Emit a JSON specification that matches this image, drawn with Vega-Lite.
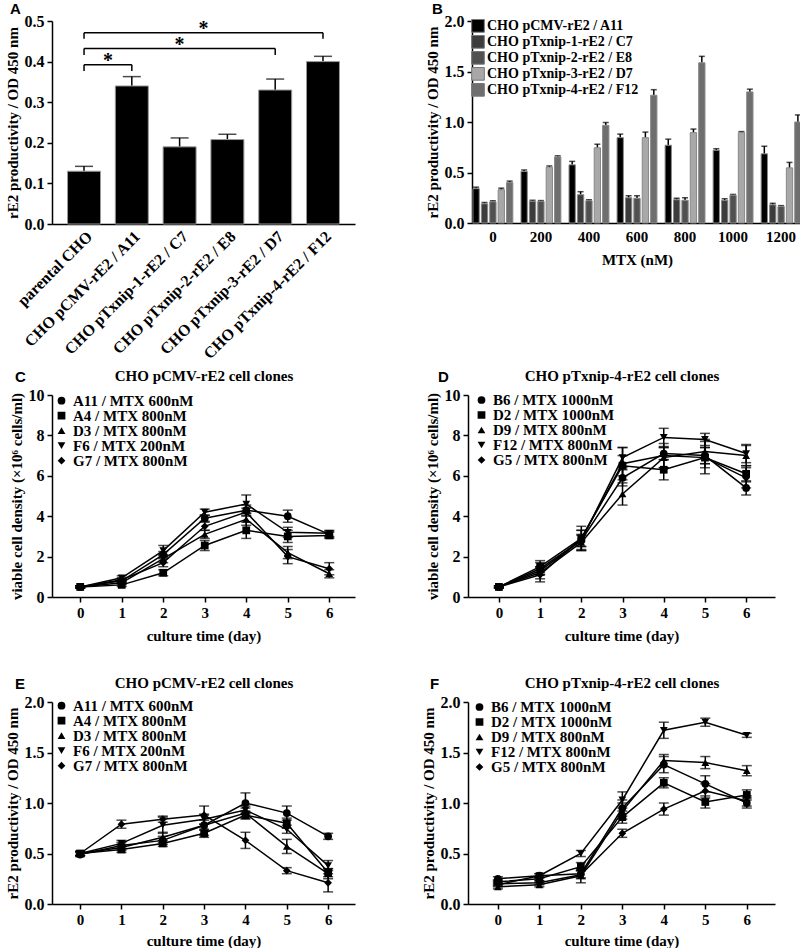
{
  "$schema": "https://vega.github.io/schema/vega-lite/v6.json",
  "background": "white",
  "padding": {"left": 5, "top": 2, "right": 0, "bottom": 0},
  "config": {
    "font": "Liberation Serif",
    "view": {"stroke": null},
    "axis": {"labelFont": "Liberation Serif", "labelFontWeight": "bold", "labelFontSize": 15, "labelColor": "black", "titleFont": "Liberation Serif", "titleFontWeight": "bold", "titleFontSize": 15, "titleColor": "black", "domainColor": "black", "domainWidth": 1.5, "tickColor": "black", "tickWidth": 1.5, "tickSize": 5, "grid": false, "labelPadding": 3},
    "axisY": {"labelFontSize": 16},
    "legend": {"labelFont": "Liberation Serif", "labelFontWeight": "bold", "labelFontSize": 15, "labelColor": "black", "labelLimit": 0, "padding": 0},
    "title": {"font": "Liberation Sans", "fontWeight": "bold", "fontSize": 15, "color": "black", "anchor": "start", "frame": "group"}
  },
  "datasets": {
    "A": [
      {"sample": "parental CHO", "value": 0.13, "upper": 0.142},
      {"sample": "CHO pCMV-rE2 / A11", "value": 0.34, "upper": 0.363},
      {"sample": "CHO pTxnip-1-rE2 / C7", "value": 0.19, "upper": 0.212},
      {"sample": "CHO pTxnip-2-rE2 / E8", "value": 0.208, "upper": 0.221},
      {"sample": "CHO pTxnip-3-rE2 / D7", "value": 0.33, "upper": 0.357},
      {"sample": "CHO pTxnip-4-rE2 / F12", "value": 0.4, "upper": 0.413}
    ],
    "brackets": [
      {"start": 0, "end": 1, "mid": 0.5, "level": 0.392, "low": 0.377, "sig": "*"},
      {"start": 0, "end": 4, "mid": 2, "level": 0.432, "low": 0.416, "sig": "*"},
      {"start": 0, "end": 5, "mid": 2.5, "level": 0.471, "low": 0.456, "sig": "*"}
    ],
    "B": [
      {"mtx": "0", "clone": "CHO pCMV-rE2 / A11", "value": 0.34, "upper": 0.355},
      {"mtx": "0", "clone": "CHO pTxnip-1-rE2 / C7", "value": 0.19, "upper": 0.203},
      {"mtx": "0", "clone": "CHO pTxnip-2-rE2  / E8", "value": 0.21, "upper": 0.22},
      {"mtx": "0", "clone": "CHO pTxnip-3-rE2 / D7", "value": 0.33, "upper": 0.345},
      {"mtx": "0", "clone": "CHO pTxnip-4-rE2 / F12", "value": 0.4, "upper": 0.415},
      {"mtx": "200", "clone": "CHO pCMV-rE2 / A11", "value": 0.51, "upper": 0.525},
      {"mtx": "200", "clone": "CHO pTxnip-1-rE2 / C7", "value": 0.215, "upper": 0.225},
      {"mtx": "200", "clone": "CHO pTxnip-2-rE2  / E8", "value": 0.215, "upper": 0.222},
      {"mtx": "200", "clone": "CHO pTxnip-3-rE2 / D7", "value": 0.553, "upper": 0.565},
      {"mtx": "200", "clone": "CHO pTxnip-4-rE2 / F12", "value": 0.655, "upper": 0.665},
      {"mtx": "400", "clone": "CHO pCMV-rE2 / A11", "value": 0.576, "upper": 0.61},
      {"mtx": "400", "clone": "CHO pTxnip-1-rE2 / C7", "value": 0.28, "upper": 0.31},
      {"mtx": "400", "clone": "CHO pTxnip-2-rE2  / E8", "value": 0.22, "upper": 0.23},
      {"mtx": "400", "clone": "CHO pTxnip-3-rE2 / D7", "value": 0.745, "upper": 0.78},
      {"mtx": "400", "clone": "CHO pTxnip-4-rE2 / F12", "value": 0.967, "upper": 0.995},
      {"mtx": "600", "clone": "CHO pCMV-rE2 / A11", "value": 0.845, "upper": 0.88},
      {"mtx": "600", "clone": "CHO pTxnip-1-rE2 / C7", "value": 0.25, "upper": 0.27},
      {"mtx": "600", "clone": "CHO pTxnip-2-rE2  / E8", "value": 0.245, "upper": 0.27},
      {"mtx": "600", "clone": "CHO pTxnip-3-rE2 / D7", "value": 0.845, "upper": 0.9},
      {"mtx": "600", "clone": "CHO pTxnip-4-rE2 / F12", "value": 1.265, "upper": 1.32},
      {"mtx": "800", "clone": "CHO pCMV-rE2 / A11", "value": 0.77, "upper": 0.83},
      {"mtx": "800", "clone": "CHO pTxnip-1-rE2 / C7", "value": 0.23, "upper": 0.245},
      {"mtx": "800", "clone": "CHO pTxnip-2-rE2  / E8", "value": 0.225, "upper": 0.25},
      {"mtx": "800", "clone": "CHO pTxnip-3-rE2 / D7", "value": 0.895, "upper": 0.93},
      {"mtx": "800", "clone": "CHO pTxnip-4-rE2 / F12", "value": 1.586, "upper": 1.65},
      {"mtx": "1000", "clone": "CHO pCMV-rE2 / A11", "value": 0.72, "upper": 0.735},
      {"mtx": "1000", "clone": "CHO pTxnip-1-rE2 / C7", "value": 0.225, "upper": 0.24},
      {"mtx": "1000", "clone": "CHO pTxnip-2-rE2  / E8", "value": 0.275, "upper": 0.283},
      {"mtx": "1000", "clone": "CHO pTxnip-3-rE2 / D7", "value": 0.895, "upper": 0.905},
      {"mtx": "1000", "clone": "CHO pTxnip-4-rE2 / F12", "value": 1.298, "upper": 1.325},
      {"mtx": "1200", "clone": "CHO pCMV-rE2 / A11", "value": 0.685, "upper": 0.76},
      {"mtx": "1200", "clone": "CHO pTxnip-1-rE2 / C7", "value": 0.18, "upper": 0.195},
      {"mtx": "1200", "clone": "CHO pTxnip-2-rE2  / E8", "value": 0.163, "upper": 0.172},
      {"mtx": "1200", "clone": "CHO pTxnip-3-rE2 / D7", "value": 0.546, "upper": 0.6},
      {"mtx": "1200", "clone": "CHO pTxnip-4-rE2 / F12", "value": 1.0, "upper": 1.07}
    ],
    "C": [
      {"clone": "A11 / MTX 600nM", "day": 0, "value": 0.5, "sd": 0.05},
      {"clone": "A11 / MTX 600nM", "day": 1, "value": 0.8, "sd": 0.1},
      {"clone": "A11 / MTX 600nM", "day": 2, "value": 2.1, "sd": 0.15},
      {"clone": "A11 / MTX 600nM", "day": 3, "value": 3.9, "sd": 0.15},
      {"clone": "A11 / MTX 600nM", "day": 4, "value": 4.3, "sd": 0.25},
      {"clone": "A11 / MTX 600nM", "day": 5, "value": 4.0, "sd": 0.3},
      {"clone": "A11 / MTX 600nM", "day": 6, "value": 3.1, "sd": 0.15},
      {"clone": "A4 / MTX 800nM", "day": 0, "value": 0.5, "sd": 0.05},
      {"clone": "A4 / MTX 800nM", "day": 1, "value": 0.6, "sd": 0.08},
      {"clone": "A4 / MTX 800nM", "day": 2, "value": 1.2, "sd": 0.15},
      {"clone": "A4 / MTX 800nM", "day": 3, "value": 2.55, "sd": 0.25},
      {"clone": "A4 / MTX 800nM", "day": 4, "value": 3.3, "sd": 0.4},
      {"clone": "A4 / MTX 800nM", "day": 5, "value": 3.0, "sd": 0.3},
      {"clone": "A4 / MTX 800nM", "day": 6, "value": 3.05, "sd": 0.15},
      {"clone": "D3 / MTX 800nM", "day": 0, "value": 0.5, "sd": 0.05},
      {"clone": "D3 / MTX 800nM", "day": 1, "value": 0.7, "sd": 0.08},
      {"clone": "D3 / MTX 800nM", "day": 2, "value": 1.9, "sd": 0.2},
      {"clone": "D3 / MTX 800nM", "day": 3, "value": 3.1, "sd": 0.2},
      {"clone": "D3 / MTX 800nM", "day": 4, "value": 3.85, "sd": 0.3},
      {"clone": "D3 / MTX 800nM", "day": 5, "value": 2.2, "sd": 0.3},
      {"clone": "D3 / MTX 800nM", "day": 6, "value": 1.15, "sd": 0.2},
      {"clone": "F6 / MTX 200nM", "day": 0, "value": 0.5, "sd": 0.05},
      {"clone": "F6 / MTX 200nM", "day": 1, "value": 0.95, "sd": 0.1},
      {"clone": "F6 / MTX 200nM", "day": 2, "value": 2.3, "sd": 0.25},
      {"clone": "F6 / MTX 200nM", "day": 3, "value": 4.2, "sd": 0.15},
      {"clone": "F6 / MTX 200nM", "day": 4, "value": 4.6, "sd": 0.45},
      {"clone": "F6 / MTX 200nM", "day": 5, "value": 3.2, "sd": 0.25},
      {"clone": "F6 / MTX 200nM", "day": 6, "value": 3.15, "sd": 0.15},
      {"clone": "G7 / MTX 800nM", "day": 0, "value": 0.5, "sd": 0.05},
      {"clone": "G7 / MTX 800nM", "day": 1, "value": 0.85, "sd": 0.1},
      {"clone": "G7 / MTX 800nM", "day": 2, "value": 1.7, "sd": 0.2},
      {"clone": "G7 / MTX 800nM", "day": 3, "value": 3.5, "sd": 0.2},
      {"clone": "G7 / MTX 800nM", "day": 4, "value": 4.2, "sd": 0.2},
      {"clone": "G7 / MTX 800nM", "day": 5, "value": 2.0, "sd": 0.35},
      {"clone": "G7 / MTX 800nM", "day": 6, "value": 1.4, "sd": 0.3}
    ],
    "D": [
      {"clone": "B6 / MTX 1000nM", "day": 0, "value": 0.5, "sd": 0.05},
      {"clone": "B6 / MTX 1000nM", "day": 1, "value": 1.3, "sd": 0.2},
      {"clone": "B6 / MTX 1000nM", "day": 2, "value": 2.8, "sd": 0.3},
      {"clone": "B6 / MTX 1000nM", "day": 3, "value": 5.9, "sd": 0.4},
      {"clone": "B6 / MTX 1000nM", "day": 4, "value": 7.1, "sd": 0.3},
      {"clone": "B6 / MTX 1000nM", "day": 5, "value": 7.0, "sd": 0.4},
      {"clone": "B6 / MTX 1000nM", "day": 6, "value": 5.4, "sd": 0.35},
      {"clone": "D2 / MTX 1000nM", "day": 0, "value": 0.5, "sd": 0.05},
      {"clone": "D2 / MTX 1000nM", "day": 1, "value": 1.5, "sd": 0.3},
      {"clone": "D2 / MTX 1000nM", "day": 2, "value": 2.9, "sd": 0.4},
      {"clone": "D2 / MTX 1000nM", "day": 3, "value": 6.5, "sd": 0.5},
      {"clone": "D2 / MTX 1000nM", "day": 4, "value": 6.3, "sd": 0.5},
      {"clone": "D2 / MTX 1000nM", "day": 5, "value": 6.9, "sd": 0.5},
      {"clone": "D2 / MTX 1000nM", "day": 6, "value": 6.1, "sd": 0.4},
      {"clone": "D9 / MTX 800nM", "day": 0, "value": 0.5, "sd": 0.05},
      {"clone": "D9 / MTX 800nM", "day": 1, "value": 1.2, "sd": 0.3},
      {"clone": "D9 / MTX 800nM", "day": 2, "value": 2.7, "sd": 0.35},
      {"clone": "D9 / MTX 800nM", "day": 3, "value": 5.1, "sd": 0.55},
      {"clone": "D9 / MTX 800nM", "day": 4, "value": 6.9, "sd": 0.5},
      {"clone": "D9 / MTX 800nM", "day": 5, "value": 7.2, "sd": 0.6},
      {"clone": "D9 / MTX 800nM", "day": 6, "value": 7.0, "sd": 0.5},
      {"clone": "F12 / MTX 800nM", "day": 0, "value": 0.5, "sd": 0.05},
      {"clone": "F12 / MTX 800nM", "day": 1, "value": 1.4, "sd": 0.3},
      {"clone": "F12 / MTX 800nM", "day": 2, "value": 2.8, "sd": 0.5},
      {"clone": "F12 / MTX 800nM", "day": 3, "value": 6.9, "sd": 0.5},
      {"clone": "F12 / MTX 800nM", "day": 4, "value": 7.9, "sd": 0.45},
      {"clone": "F12 / MTX 800nM", "day": 5, "value": 7.8, "sd": 0.3},
      {"clone": "F12 / MTX 800nM", "day": 6, "value": 7.1, "sd": 0.45},
      {"clone": "G5 / MTX 800nM", "day": 0, "value": 0.5, "sd": 0.05},
      {"clone": "G5 / MTX 800nM", "day": 1, "value": 1.1, "sd": 0.35},
      {"clone": "G5 / MTX 800nM", "day": 2, "value": 2.9, "sd": 0.6},
      {"clone": "G5 / MTX 800nM", "day": 3, "value": 6.6, "sd": 0.8},
      {"clone": "G5 / MTX 800nM", "day": 4, "value": 7.0, "sd": 0.6},
      {"clone": "G5 / MTX 800nM", "day": 5, "value": 6.9, "sd": 0.8},
      {"clone": "G5 / MTX 800nM", "day": 6, "value": 5.9, "sd": 0.5}
    ],
    "E": [
      {"clone": "A11 / MTX 600nM", "day": 0, "value": 0.49, "sd": 0.02},
      {"clone": "A11 / MTX 600nM", "day": 1, "value": 0.58, "sd": 0.03},
      {"clone": "A11 / MTX 600nM", "day": 2, "value": 0.63, "sd": 0.04},
      {"clone": "A11 / MTX 600nM", "day": 3, "value": 0.78, "sd": 0.1},
      {"clone": "A11 / MTX 600nM", "day": 4, "value": 1.0, "sd": 0.1},
      {"clone": "A11 / MTX 600nM", "day": 5, "value": 0.9, "sd": 0.07},
      {"clone": "A11 / MTX 600nM", "day": 6, "value": 0.67, "sd": 0.03},
      {"clone": "A4 / MTX 800nM", "day": 0, "value": 0.5, "sd": 0.02},
      {"clone": "A4 / MTX 800nM", "day": 1, "value": 0.54, "sd": 0.03},
      {"clone": "A4 / MTX 800nM", "day": 2, "value": 0.6, "sd": 0.03},
      {"clone": "A4 / MTX 800nM", "day": 3, "value": 0.7, "sd": 0.04},
      {"clone": "A4 / MTX 800nM", "day": 4, "value": 0.88, "sd": 0.04},
      {"clone": "A4 / MTX 800nM", "day": 5, "value": 0.8, "sd": 0.05},
      {"clone": "A4 / MTX 800nM", "day": 6, "value": 0.31, "sd": 0.04},
      {"clone": "D3 / MTX 800nM", "day": 0, "value": 0.5, "sd": 0.02},
      {"clone": "D3 / MTX 800nM", "day": 1, "value": 0.56, "sd": 0.03},
      {"clone": "D3 / MTX 800nM", "day": 2, "value": 0.66, "sd": 0.05},
      {"clone": "D3 / MTX 800nM", "day": 3, "value": 0.78, "sd": 0.05},
      {"clone": "D3 / MTX 800nM", "day": 4, "value": 0.9, "sd": 0.05},
      {"clone": "D3 / MTX 800nM", "day": 5, "value": 0.57, "sd": 0.07},
      {"clone": "D3 / MTX 800nM", "day": 6, "value": 0.3, "sd": 0.05},
      {"clone": "F6 / MTX 200nM", "day": 0, "value": 0.5, "sd": 0.02},
      {"clone": "F6 / MTX 200nM", "day": 1, "value": 0.6, "sd": 0.03},
      {"clone": "F6 / MTX 200nM", "day": 2, "value": 0.78, "sd": 0.08},
      {"clone": "F6 / MTX 200nM", "day": 3, "value": 0.84, "sd": 0.05},
      {"clone": "F6 / MTX 200nM", "day": 4, "value": 0.93, "sd": 0.04},
      {"clone": "F6 / MTX 200nM", "day": 5, "value": 0.74, "sd": 0.04},
      {"clone": "F6 / MTX 200nM", "day": 6, "value": 0.38, "sd": 0.05},
      {"clone": "G7 / MTX 800nM", "day": 0, "value": 0.5, "sd": 0.02},
      {"clone": "G7 / MTX 800nM", "day": 1, "value": 0.79, "sd": 0.04},
      {"clone": "G7 / MTX 800nM", "day": 2, "value": 0.84, "sd": 0.03},
      {"clone": "G7 / MTX 800nM", "day": 3, "value": 0.88, "sd": 0.09},
      {"clone": "G7 / MTX 800nM", "day": 4, "value": 0.63, "sd": 0.08},
      {"clone": "G7 / MTX 800nM", "day": 5, "value": 0.33, "sd": 0.03},
      {"clone": "G7 / MTX 800nM", "day": 6, "value": 0.21, "sd": 0.09}
    ],
    "F": [
      {"clone": "B6 / MTX 1000nM", "day": 0, "value": 0.25, "sd": 0.02},
      {"clone": "B6 / MTX 1000nM", "day": 1, "value": 0.28, "sd": 0.02},
      {"clone": "B6 / MTX 1000nM", "day": 2, "value": 0.3, "sd": 0.04},
      {"clone": "B6 / MTX 1000nM", "day": 3, "value": 0.95, "sd": 0.08},
      {"clone": "B6 / MTX 1000nM", "day": 4, "value": 1.38, "sd": 0.08},
      {"clone": "B6 / MTX 1000nM", "day": 5, "value": 1.19, "sd": 0.08},
      {"clone": "B6 / MTX 1000nM", "day": 6, "value": 1.0, "sd": 0.05},
      {"clone": "D2 / MTX 1000nM", "day": 0, "value": 0.22, "sd": 0.02},
      {"clone": "D2 / MTX 1000nM", "day": 1, "value": 0.25, "sd": 0.02},
      {"clone": "D2 / MTX 1000nM", "day": 2, "value": 0.37, "sd": 0.04},
      {"clone": "D2 / MTX 1000nM", "day": 3, "value": 0.86, "sd": 0.06},
      {"clone": "D2 / MTX 1000nM", "day": 4, "value": 1.2, "sd": 0.05},
      {"clone": "D2 / MTX 1000nM", "day": 5, "value": 1.01, "sd": 0.06},
      {"clone": "D2 / MTX 1000nM", "day": 6, "value": 1.08, "sd": 0.05},
      {"clone": "D9 / MTX 800nM", "day": 0, "value": 0.17, "sd": 0.02},
      {"clone": "D9 / MTX 800nM", "day": 1, "value": 0.19, "sd": 0.02},
      {"clone": "D9 / MTX 800nM", "day": 2, "value": 0.28, "sd": 0.07},
      {"clone": "D9 / MTX 800nM", "day": 3, "value": 0.92, "sd": 0.08},
      {"clone": "D9 / MTX 800nM", "day": 4, "value": 1.42, "sd": 0.06},
      {"clone": "D9 / MTX 800nM", "day": 5, "value": 1.4, "sd": 0.06},
      {"clone": "D9 / MTX 800nM", "day": 6, "value": 1.32, "sd": 0.05},
      {"clone": "F12 / MTX 800nM", "day": 0, "value": 0.19, "sd": 0.02},
      {"clone": "F12 / MTX 800nM", "day": 1, "value": 0.28, "sd": 0.02},
      {"clone": "F12 / MTX 800nM", "day": 2, "value": 0.5, "sd": 0.03},
      {"clone": "F12 / MTX 800nM", "day": 3, "value": 1.03, "sd": 0.08},
      {"clone": "F12 / MTX 800nM", "day": 4, "value": 1.72, "sd": 0.08},
      {"clone": "F12 / MTX 800nM", "day": 5, "value": 1.8, "sd": 0.04},
      {"clone": "F12 / MTX 800nM", "day": 6, "value": 1.67, "sd": 0.02},
      {"clone": "G5 / MTX 800nM", "day": 0, "value": 0.2, "sd": 0.02},
      {"clone": "G5 / MTX 800nM", "day": 1, "value": 0.21, "sd": 0.02},
      {"clone": "G5 / MTX 800nM", "day": 2, "value": 0.29, "sd": 0.04},
      {"clone": "G5 / MTX 800nM", "day": 3, "value": 0.7, "sd": 0.04},
      {"clone": "G5 / MTX 800nM", "day": 4, "value": 0.94, "sd": 0.06},
      {"clone": "G5 / MTX 800nM", "day": 5, "value": 1.12, "sd": 0.07},
      {"clone": "G5 / MTX 800nM", "day": 6, "value": 1.02, "sd": 0.05}
    ]
  },
  "spacing": 6,
  "resolve": {"scale": {"shape": "independent", "fill": "independent"}, "legend": {"fill": "independent", "shape": "independent"}},
  "vconcat": [
    {
      "hconcat": [
        {
          "width": 303, "height": 203,
          "title": {"text": "A", "dx": -42, "offset": 2, "dy": 6},
          "data": {"name": "A"},
          "layer": [
            {"mark": {"type": "rule", "color": "black", "strokeWidth": 1.5},
             "encoding": {
               "x": {"field": "sample", "type": "nominal", "sort": null, "scale": {"paddingInner": 0.31, "paddingOuter": 0.325}, "axis": null},
               "y": {"field": "value", "type": "quantitative", "title": "rE2 productivity / OD 450 nm", "scale": {"domain": [0, 0.5], "nice": false}},
               "y2": {"field": "upper"}}},
            {"mark": {"type": "tick", "color": "black", "thickness": 1.5, "size": 18},
             "encoding": {
               "x": {"field": "sample", "type": "nominal", "sort": null, "scale": {"paddingInner": 0.31, "paddingOuter": 0.325}, "axis": null},
               "y": {"field": "upper", "type": "quantitative", "title": "rE2 productivity / OD 450 nm", "scale": {"domain": [0, 0.5], "nice": false}}}},
            {"mark": {"type": "bar", "fill": "black", "stroke": "#999999", "strokeWidth": 1},
             "encoding": {
               "x": {"field": "sample", "type": "nominal", "sort": null, "scale": {"paddingInner": 0.31, "paddingOuter": 0.325}, "axis": {"title": null, "labelAngle": -45, "ticks": false, "labelFontSize": 16, "labelPadding": 4, "labelLimit": 0}},
               "y": {"field": "value", "type": "quantitative", "title": "rE2 productivity / OD 450 nm", "scale": {"domain": [0, 0.5], "nice": false}, "axis": {"values": [0, 0.1, 0.2, 0.3, 0.4, 0.5], "format": ".1f"}}}},
            {"data": {"name": "brackets"},
             "mark": {"type": "rule", "color": "black", "strokeWidth": 1.5},
             "encoding": {
               "x": {"field": "start", "type": "quantitative", "scale": {"domain": [-0.6704, 5.6698], "nice": false, "zero": false}, "axis": null},
               "x2": {"field": "end"},
               "y": {"field": "level", "type": "quantitative", "title": "rE2 productivity / OD 450 nm", "scale": {"domain": [0, 0.5], "nice": false}}}},
            {"data": {"name": "brackets"},
             "mark": {"type": "rule", "color": "black", "strokeWidth": 1.5},
             "encoding": {
               "x": {"field": "start", "type": "quantitative", "scale": {"domain": [-0.6704, 5.6698], "nice": false, "zero": false}, "axis": null},
               "y": {"field": "level", "type": "quantitative", "title": "rE2 productivity / OD 450 nm", "scale": {"domain": [0, 0.5], "nice": false}},
               "y2": {"field": "low"}}},
            {"data": {"name": "brackets"},
             "mark": {"type": "rule", "color": "black", "strokeWidth": 1.5},
             "encoding": {
               "x": {"field": "end", "type": "quantitative", "scale": {"domain": [-0.6704, 5.6698], "nice": false, "zero": false}, "axis": null},
               "y": {"field": "level", "type": "quantitative", "title": "rE2 productivity / OD 450 nm", "scale": {"domain": [0, 0.5], "nice": false}},
               "y2": {"field": "low"}}},
            {"data": {"name": "brackets"},
             "mark": {"type": "text", "font": "Liberation Serif", "fontWeight": "bold", "fontSize": 20, "color": "black", "baseline": "alphabetic", "dy": 2},
             "encoding": {
               "x": {"field": "mid", "type": "quantitative", "scale": {"domain": [-0.6704, 5.6698], "nice": false, "zero": false}, "axis": null},
               "y": {"field": "level", "type": "quantitative", "title": "rE2 productivity / OD 450 nm", "scale": {"domain": [0, 0.5], "nice": false}},
               "text": {"field": "sig"}}}
          ],
          "resolve": {"scale": {"x": "independent"}}
        },
        {
          "width": 330, "height": 202,
          "title": {"text": "B", "dx": -40, "offset": 2, "dy": 6},
          "data": {"name": "B"},
          "encoding": {
            "x": {"field": "mtx", "type": "nominal", "sort": null, "scale": {"paddingInner": 0.17, "paddingOuter": 0.02}, "axis": {"title": "MTX (nM)", "labelAngle": 0, "ticks": false, "labelPadding": 6, "titlePadding": 8}},
            "xOffset": {"field": "clone", "type": "nominal", "sort": null, "scale": {"paddingInner": 0.25}}
          },
          "layer": [
            {"mark": {"type": "rule", "color": "black", "strokeWidth": 1.5},
             "encoding": {
               "y": {"field": "value", "type": "quantitative", "title": "rE2 productivity / OD 450 nm", "scale": {"domain": [0, 2], "nice": false}, "axis": {"values": [0, 0.5, 1, 1.5, 2], "format": ".1f"}},
               "y2": {"field": "upper"}}},
            {"mark": {"type": "tick", "color": "black", "thickness": 1.5, "size": 6},
             "encoding": {
               "y": {"field": "upper", "type": "quantitative", "title": "rE2 productivity / OD 450 nm", "scale": {"domain": [0, 2], "nice": false}}}},
            {"mark": {"type": "bar", "stroke": "#888888", "strokeWidth": 1},
             "encoding": {
               "y": {"field": "value", "type": "quantitative", "title": "rE2 productivity / OD 450 nm", "scale": {"domain": [0, 2], "nice": false}},
               "fill": {"field": "clone", "type": "nominal", "sort": null,
                 "scale": {"domain": ["CHO pCMV-rE2 / A11", "CHO pTxnip-1-rE2 / C7", "CHO pTxnip-2-rE2  / E8", "CHO pTxnip-3-rE2 / D7", "CHO pTxnip-4-rE2 / F12"], "range": ["#000000", "#3c3c3c", "#505050", "#a8a8a8", "#6e6e6e"]},
                 "legend": {"title": null, "orient": "none", "legendX": -1, "legendY": -3, "symbolType": "square", "symbolSize": 160, "symbolStrokeColor": "#777777", "symbolStrokeWidth": 1, "labelFontSize": 14, "rowPadding": 0, "clipHeight": 15.7, "labelOffset": 2}}}}
          ]
        }
      ],
      "spacing": 117,
      "bounds": "flush",
      "resolve": {"scale": {"shape": "independent", "fill": "independent"}, "legend": {"fill": "independent", "shape": "independent"}}
    },
    {
      "spacing": 32,
      "resolve": {"scale": {"shape": "independent", "fill": "independent"}, "legend": {"fill": "independent", "shape": "independent"}},
      "vconcat": [
        {
          "hconcat": [
            {
              "width": 303, "height": 202,
              "title": {"text": "C", "dx": -37, "offset": 0, "dy": 17},
              "data": {"name": "C"},
              "layer": [
                {"mark": {"type": "errorbar", "ticks": {"size": 10, "thickness": 1.5, "color": "black"}, "rule": {"color": "black", "strokeWidth": 1.5}},
                 "encoding": {
                   "x": {"field": "day", "type": "quantitative", "scale": {"domain": [-0.68, 6.62], "nice": false, "zero": false}, "axis": null},
                   "y": {"field": "value", "type": "quantitative", "title": "viable cell density (×10⁶ cells/ml)", "scale": {"domain": [0, 10], "nice": false}},
                   "yError": {"field": "sd"},
                   "detail": {"field": "clone"}}},
                {"mark": {"type": "line", "color": "black", "strokeWidth": 1.5},
                 "encoding": {
                   "x": {"field": "day", "type": "quantitative", "scale": {"domain": [-0.68, 6.62], "nice": false, "zero": false}, "axis": {"orient": "top", "title": "CHO pCMV-rE2 cell clones", "labels": false, "ticks": false, "domain": false, "titlePadding": 12}},
                   "y": {"field": "value", "type": "quantitative", "title": "viable cell density (×10⁶ cells/ml)", "scale": {"domain": [0, 10], "nice": false}},
                   "detail": {"field": "clone"}}},
                {"mark": {"type": "point", "filled": true, "color": "black", "size": 60, "opacity": 1},
                 "encoding": {
                   "x": {"field": "day", "type": "quantitative", "scale": {"domain": [-0.68, 6.62], "nice": false, "zero": false}, "axis": {"title": "culture time (day)", "values": [0, 1, 2, 3, 4, 5, 6], "format": "d", "titlePadding": 8}},
                   "y": {"field": "value", "type": "quantitative", "title": "viable cell density (×10⁶ cells/ml)", "scale": {"domain": [0, 10], "nice": false}, "axis": {"values": [0, 2, 4, 6, 8, 10], "format": "d"}},
                   "shape": {"field": "clone", "type": "nominal", "sort": null,
                     "scale": {"domain": ["A11 / MTX 600nM", "A4 / MTX 800nM", "D3 / MTX 800nM", "F6 / MTX 200nM", "G7 / MTX 800nM"], "range": ["circle", "square", "triangle-up", "triangle-down", "diamond"]},
                     "legend": {"title": null, "orient": "none", "legendX": 2, "legendY": -1.3, "symbolSize": 60, "symbolFillColor": "black", "symbolStrokeColor": "black", "labelOffset": 4, "rowPadding": 0, "clipHeight": 14}}}}
              ],
              "resolve": {"axis": {"x": "independent"}}
            },
            {
              "width": 307, "height": 202,
              "title": {"text": "D", "dx": -30, "offset": 0, "dy": 17},
              "data": {"name": "D"},
              "layer": [
                {"mark": {"type": "errorbar", "ticks": {"size": 10, "thickness": 1.5, "color": "black"}, "rule": {"color": "black", "strokeWidth": 1.5}},
                 "encoding": {
                   "x": {"field": "day", "type": "quantitative", "scale": {"domain": [-0.75, 6.7], "nice": false, "zero": false}, "axis": null},
                   "y": {"field": "value", "type": "quantitative", "title": "viable cell density (×10⁶ cells/ml)", "scale": {"domain": [0, 10], "nice": false}},
                   "yError": {"field": "sd"},
                   "detail": {"field": "clone"}}},
                {"mark": {"type": "line", "color": "black", "strokeWidth": 1.5},
                 "encoding": {
                   "x": {"field": "day", "type": "quantitative", "scale": {"domain": [-0.75, 6.7], "nice": false, "zero": false}, "axis": {"orient": "top", "title": "CHO pTxnip-4-rE2 cell clones", "labels": false, "ticks": false, "domain": false, "titlePadding": 12}},
                   "y": {"field": "value", "type": "quantitative", "title": "viable cell density (×10⁶ cells/ml)", "scale": {"domain": [0, 10], "nice": false}},
                   "detail": {"field": "clone"}}},
                {"mark": {"type": "point", "filled": true, "color": "black", "size": 60, "opacity": 1},
                 "encoding": {
                   "x": {"field": "day", "type": "quantitative", "scale": {"domain": [-0.75, 6.7], "nice": false, "zero": false}, "axis": {"title": "culture time (day)", "values": [0, 1, 2, 3, 4, 5, 6], "format": "d", "titlePadding": 8}},
                   "y": {"field": "value", "type": "quantitative", "title": "viable cell density (×10⁶ cells/ml)", "scale": {"domain": [0, 10], "nice": false}, "axis": {"values": [0, 2, 4, 6, 8, 10], "format": "d"}},
                   "shape": {"field": "clone", "type": "nominal", "sort": null,
                     "scale": {"domain": ["B6 / MTX 1000nM", "D2 / MTX 1000nM", "D9 / MTX 800nM", "F12 / MTX 800nM", "G5 / MTX 800nM"], "range": ["circle", "square", "triangle-up", "triangle-down", "diamond"]},
                     "legend": {"title": null, "orient": "none", "legendX": 6, "legendY": -2, "symbolSize": 60, "symbolFillColor": "black", "symbolStrokeColor": "black", "labelOffset": 4, "rowPadding": 0, "clipHeight": 14}}}}
              ],
              "resolve": {"axis": {"x": "independent"}}
            }
          ],
          "spacing": 113,
          "bounds": "flush",
          "resolve": {"scale": {"shape": "independent", "fill": "independent"}, "legend": {"fill": "independent", "shape": "independent"}}
        },
        {
          "hconcat": [
            {
              "width": 303, "height": 202,
              "title": {"text": "E", "dx": -37, "offset": 0, "dy": 17},
              "data": {"name": "E"},
              "layer": [
                {"mark": {"type": "errorbar", "ticks": {"size": 10, "thickness": 1.5, "color": "black"}, "rule": {"color": "black", "strokeWidth": 1.5}},
                 "encoding": {
                   "x": {"field": "day", "type": "quantitative", "scale": {"domain": [-0.68, 6.65], "nice": false, "zero": false}, "axis": null},
                   "y": {"field": "value", "type": "quantitative", "title": "rE2 productivity / OD 450 nm", "scale": {"domain": [0, 2], "nice": false}},
                   "yError": {"field": "sd"},
                   "detail": {"field": "clone"}}},
                {"mark": {"type": "line", "color": "black", "strokeWidth": 1.5},
                 "encoding": {
                   "x": {"field": "day", "type": "quantitative", "scale": {"domain": [-0.68, 6.65], "nice": false, "zero": false}, "axis": {"orient": "top", "title": "CHO pCMV-rE2 cell clones", "labels": false, "ticks": false, "domain": false, "titlePadding": 12}},
                   "y": {"field": "value", "type": "quantitative", "title": "rE2 productivity / OD 450 nm", "scale": {"domain": [0, 2], "nice": false}},
                   "detail": {"field": "clone"}}},
                {"mark": {"type": "point", "filled": true, "color": "black", "size": 60, "opacity": 1},
                 "encoding": {
                   "x": {"field": "day", "type": "quantitative", "scale": {"domain": [-0.68, 6.65], "nice": false, "zero": false}, "axis": {"title": "culture time (day)", "values": [0, 1, 2, 3, 4, 5, 6], "format": "d", "titlePadding": 6}},
                   "y": {"field": "value", "type": "quantitative", "title": "rE2 productivity / OD 450 nm", "scale": {"domain": [0, 2], "nice": false}, "axis": {"values": [0, 0.5, 1, 1.5, 2], "format": ".1f"}},
                   "shape": {"field": "clone", "type": "nominal", "sort": null,
                     "scale": {"domain": ["A11 / MTX 600nM", "A4 / MTX 800nM", "D3 / MTX 800nM", "F6 / MTX 200nM", "G7 / MTX 800nM"], "range": ["circle", "square", "triangle-up", "triangle-down", "diamond"]},
                     "legend": {"title": null, "orient": "none", "legendX": 2, "legendY": -3.3, "symbolSize": 60, "symbolFillColor": "black", "symbolStrokeColor": "black", "labelOffset": 4, "rowPadding": 0, "clipHeight": 14}}}}
              ],
              "resolve": {"axis": {"x": "independent"}}
            },
            {
              "width": 307, "height": 202,
              "title": {"text": "F", "dx": -38, "offset": 0, "dy": 17},
              "data": {"name": "F"},
              "layer": [
                {"mark": {"type": "errorbar", "ticks": {"size": 10, "thickness": 1.5, "color": "black"}, "rule": {"color": "black", "strokeWidth": 1.5}},
                 "encoding": {
                   "x": {"field": "day", "type": "quantitative", "scale": {"domain": [-0.72, 6.68], "nice": false, "zero": false}, "axis": null},
                   "y": {"field": "value", "type": "quantitative", "title": "rE2 productivity / OD 450 nm", "scale": {"domain": [0, 2], "nice": false}},
                   "yError": {"field": "sd"},
                   "detail": {"field": "clone"}}},
                {"mark": {"type": "line", "color": "black", "strokeWidth": 1.5},
                 "encoding": {
                   "x": {"field": "day", "type": "quantitative", "scale": {"domain": [-0.72, 6.68], "nice": false, "zero": false}, "axis": {"orient": "top", "title": "CHO pTxnip-4-rE2 cell clones", "labels": false, "ticks": false, "domain": false, "titlePadding": 12}},
                   "y": {"field": "value", "type": "quantitative", "title": "rE2 productivity / OD 450 nm", "scale": {"domain": [0, 2], "nice": false}},
                   "detail": {"field": "clone"}}},
                {"mark": {"type": "point", "filled": true, "color": "black", "size": 60, "opacity": 1},
                 "encoding": {
                   "x": {"field": "day", "type": "quantitative", "scale": {"domain": [-0.72, 6.68], "nice": false, "zero": false}, "axis": {"title": "culture time (day)", "values": [0, 1, 2, 3, 4, 5, 6], "format": "d", "titlePadding": 6}},
                   "y": {"field": "value", "type": "quantitative", "title": "rE2 productivity / OD 450 nm", "scale": {"domain": [0, 2], "nice": false}, "axis": {"values": [0, 0.5, 1, 1.5, 2], "format": ".1f"}},
                   "shape": {"field": "clone", "type": "nominal", "sort": null,
                     "scale": {"domain": ["B6 / MTX 1000nM", "D2 / MTX 1000nM", "D9 / MTX 800nM", "F12 / MTX 800nM", "G5 / MTX 800nM"], "range": ["circle", "square", "triangle-up", "triangle-down", "diamond"]},
                     "legend": {"title": null, "orient": "none", "legendX": 4, "legendY": -2, "symbolSize": 60, "symbolFillColor": "black", "symbolStrokeColor": "black", "labelOffset": 4, "rowPadding": 0, "clipHeight": 14}}}}
              ],
              "resolve": {"axis": {"x": "independent"}}
            }
          ],
          "spacing": 113,
          "bounds": "flush",
          "resolve": {"scale": {"shape": "independent", "fill": "independent"}, "legend": {"fill": "independent", "shape": "independent"}}
        }
      ]
    }
  ]
}
